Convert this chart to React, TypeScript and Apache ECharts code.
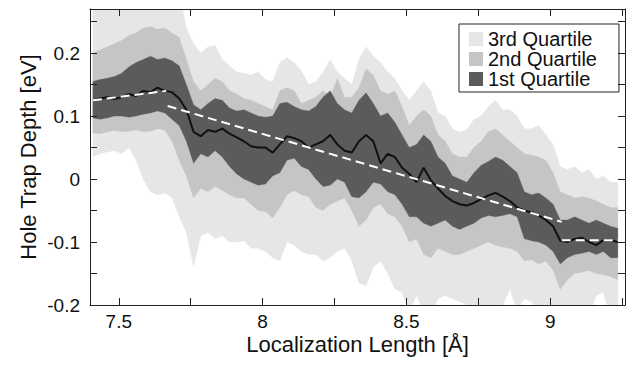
import React, { useEffect, useRef } from "react";
import * as echarts from "echarts";

// x positions (Å) at which the quartile envelopes were read
const xs = [
  7.41, 7.435, 7.46, 7.485, 7.51, 7.535, 7.56, 7.585, 7.61, 7.635,
  7.66, 7.685, 7.71, 7.735, 7.76, 7.785, 7.81, 7.835, 7.86, 7.885,
  7.91, 7.935, 7.96, 7.985, 8.01, 8.035, 8.06, 8.085, 8.11, 8.135,
  8.16, 8.185, 8.21, 8.235, 8.26, 8.285, 8.31, 8.335, 8.36, 8.385,
  8.41, 8.435, 8.46, 8.485, 8.51, 8.535, 8.56, 8.585, 8.61, 8.635,
  8.66, 8.685, 8.71, 8.735, 8.76, 8.785, 8.81, 8.835, 8.86, 8.885,
  8.91, 8.935, 8.96, 8.985, 9.01, 9.035, 9.06, 9.085, 9.11, 9.135,
  9.16, 9.185, 9.21, 9.235,
];

const upper3 = [
  0.3, 0.3, 0.3, 0.3, 0.3, 0.3, 0.3, 0.3, 0.3, 0.3,
  0.3, 0.3, 0.3, 0.24, 0.215, 0.2, 0.21, 0.212, 0.19, 0.18,
  0.17, 0.168, 0.165, 0.17, 0.158, 0.155, 0.185, 0.193, 0.185, 0.172,
  0.15, 0.155, 0.17, 0.19, 0.17, 0.16, 0.15, 0.19, 0.21, 0.195,
  0.185, 0.17, 0.16, 0.14, 0.125, 0.14, 0.155, 0.14, 0.105, 0.1,
  0.08, 0.075, 0.078, 0.095, 0.1, 0.115, 0.125, 0.11, 0.11, 0.1,
  0.08, 0.08, 0.085, 0.07, 0.055, 0.02, 0.015, 0.02, 0.01, 0.015,
  0.0, 0.005, -0.005, -0.005,
];

const upper2 = [
  0.2, 0.205, 0.21, 0.215, 0.22, 0.228, 0.232, 0.24, 0.242, 0.238,
  0.24, 0.232, 0.225, 0.19, 0.155, 0.14, 0.15, 0.16, 0.155, 0.14,
  0.135, 0.128, 0.125, 0.12, 0.115, 0.11, 0.14, 0.145, 0.14, 0.12,
  0.125, 0.13, 0.14, 0.13, 0.16, 0.13, 0.13, 0.145, 0.175, 0.165,
  0.14, 0.135, 0.14, 0.115, 0.085, 0.1, 0.11, 0.1, 0.07, 0.06,
  0.04, 0.035, 0.035, 0.05, 0.06, 0.075, 0.08, 0.07, 0.06, 0.05,
  0.04, 0.038, 0.035, 0.03, 0.01, -0.02, -0.025, -0.03, -0.028, -0.03,
  -0.035, -0.04, -0.045, -0.045,
];

const upper1 = [
  0.155, 0.158, 0.16, 0.163, 0.168, 0.178, 0.185, 0.19, 0.195, 0.19,
  0.192, 0.188, 0.18, 0.15, 0.118, 0.11, 0.12, 0.128, 0.125, 0.113,
  0.108, 0.11, 0.105, 0.1, 0.098, 0.1, 0.12, 0.122, 0.115, 0.11,
  0.108, 0.115, 0.13, 0.14, 0.12, 0.11, 0.105, 0.125, 0.137, 0.12,
  0.1, 0.105, 0.09, 0.07, 0.05, 0.055, 0.07, 0.06, 0.035, 0.025,
  0.005, 0.0, -0.005, 0.01, 0.022, 0.028, 0.035, 0.03, 0.02, 0.01,
  -0.02, -0.025, -0.022, -0.03, -0.04, -0.065, -0.065, -0.06, -0.065, -0.07,
  -0.065, -0.07, -0.075, -0.078,
];

const lower1 = [
  0.097, 0.095, 0.097, 0.1, 0.1, 0.098, 0.1, 0.103, 0.105, 0.108,
  0.105, 0.095, 0.085, 0.06, 0.025, 0.04, 0.035, 0.045, 0.035, 0.02,
  0.008, 0.0, -0.005, -0.01, -0.008, 0.005, 0.01, 0.03, 0.033, 0.02,
  0.015, 0.0, -0.012, -0.01, 0.0, -0.005, -0.028, -0.03, -0.02, -0.005,
  -0.008, -0.02, -0.025, -0.04, -0.06, -0.06, -0.07, -0.075, -0.07, -0.065,
  -0.075, -0.08, -0.075, -0.07, -0.062, -0.058, -0.06, -0.058, -0.055, -0.06,
  -0.095, -0.098, -0.1, -0.105, -0.115, -0.135, -0.125, -0.12, -0.118, -0.115,
  -0.12, -0.115, -0.125, -0.125,
];

const lower2 = [
  0.073, 0.072, 0.075, 0.077, 0.075, 0.076, 0.078, 0.075, 0.076, 0.08,
  0.078, 0.06, 0.03, 0.005, -0.03, -0.015, -0.02, -0.012, -0.018, -0.025,
  -0.03, -0.03, -0.04, -0.05, -0.052, -0.062, -0.045, -0.025, -0.018, -0.025,
  -0.028, -0.045, -0.05, -0.04, -0.035, -0.03, -0.05, -0.075, -0.065, -0.045,
  -0.04, -0.055, -0.06, -0.075, -0.1, -0.095, -0.12, -0.125, -0.11, -0.115,
  -0.12, -0.12, -0.115, -0.11, -0.105, -0.1, -0.105, -0.108, -0.11, -0.115,
  -0.13, -0.128, -0.135, -0.13, -0.145, -0.175, -0.16, -0.15, -0.148, -0.145,
  -0.15, -0.152, -0.155, -0.16,
];

const lower3 = [
  0.035, 0.04, 0.043, 0.045, 0.04, 0.05, 0.03, 0.0, -0.02, -0.025,
  -0.022, -0.03, -0.06, -0.085, -0.14, -0.09, -0.085, -0.095, -0.09, -0.1,
  -0.1, -0.098, -0.11, -0.11, -0.115, -0.125, -0.13, -0.1, -0.105, -0.115,
  -0.12, -0.12, -0.13, -0.125, -0.115, -0.11, -0.13, -0.165, -0.17, -0.14,
  -0.13, -0.15, -0.175, -0.18, -0.21, -0.185, -0.21, -0.22, -0.19, -0.185,
  -0.19, -0.195, -0.2, -0.205, -0.2, -0.205, -0.21, -0.2, -0.175, -0.21,
  -0.19, -0.195, -0.21, -0.22, -0.23, -0.24, -0.23, -0.22, -0.22, -0.22,
  -0.185, -0.18, -0.22, -0.22,
];

const median = [
  0.125, 0.128, 0.13, 0.127, 0.13, 0.135, 0.132, 0.14, 0.138, 0.145,
  0.14, 0.138, 0.128, 0.11, 0.075, 0.068, 0.078, 0.075, 0.08, 0.072,
  0.066, 0.06, 0.052, 0.05, 0.05, 0.042, 0.055, 0.068, 0.065, 0.06,
  0.05, 0.055, 0.06, 0.07, 0.055, 0.045, 0.042, 0.06, 0.07, 0.06,
  0.025, 0.04, 0.035, 0.018, 0.008, -0.005, 0.018, -0.002, -0.015, -0.027,
  -0.035, -0.04, -0.042, -0.038, -0.032, -0.026, -0.022, -0.028, -0.035, -0.045,
  -0.05, -0.053, -0.058, -0.065, -0.075, -0.098, -0.1, -0.095, -0.093, -0.1,
  -0.105, -0.097, -0.097, -0.1,
];

// white dashed piecewise linear trend
const trendX = [7.41, 7.665, 7.67, 9.04, 9.04, 9.245];
const trendY = [0.125, 0.14, 0.116, -0.068, -0.097, -0.097];

const xTicks = [7.5, 7.75, 8, 8.25, 8.5, 8.75, 9, 9.25];
const xLabels = [7.5, 8, 8.5, 9];
const yTicks = [-0.2, -0.15, -0.1, -0.05, 0, 0.05, 0.1, 0.15, 0.2, 0.25];
const yLabels = [-0.2, -0.1, 0, 0.1, 0.2];

const legendNames = ["3rd Quartile", "2nd Quartile", "1st Quartile"];
const LIGHT = "#e5e6e7";
const MID = "#c4c5c7";
const DARK = "#5a5b5d";

export default function App() {
  const ref = useRef<HTMLDivElement>(null);
  useEffect(() => {
    if (!ref.current) return;
    const chart = echarts.init(ref.current, undefined, { renderer: "svg" });
    const pair = (ys: number[]) => xs.map((x, i) => [x, ys[i]]);

    const bandSeries = (name: string, upper: number[], lower: number[], color: string, z: number) => ({
      name,
      type: "custom",
      coordinateSystem: "cartesian2d",
      xAxisIndex: 0,
      yAxisIndex: 0,
      data: [[xs[0], upper[0]]],
      silent: true,
      clip: true,
      z,
      itemStyle: { color },
      renderItem: (params: any, api: any) => {
        const top = xs.map((x, i) => api.coord([x, upper[i]]));
        const bottom = xs.map((x, i) => api.coord([x, lower[i]])).reverse();
        const cs = params.coordSys;
        return {
          type: "group",
          clipPath: { type: "rect", shape: { x: cs.x, y: cs.y, width: cs.width, height: cs.height } },
          children: [
            {
              type: "polygon",
              shape: { points: top.concat(bottom) },
              style: { fill: color, stroke: color, lineWidth: 0.3 },
            },
          ],
        };
      },
    });

    const trendSeg = (a: number, b: number) => ({
      type: "line",
      data: [
        [trendX[a], trendY[a]],
        [trendX[b], trendY[b]],
      ],
      symbol: "none",
      silent: true,
      lineStyle: { color: "#ffffff", width: 2, type: [9, 5] },
      z: 6,
    });
    const axisCommon = {
      type: "value",
      z: 10,
      axisLine: { show: true, onZero: false, lineStyle: { color: "#222", width: 1 } },
      splitLine: { show: false },
    };
    chart.setOption({
      animation: false,
      textStyle: { fontFamily: "'Liberation Sans', Arial, Helvetica, sans-serif" },
      grid: { left: 90, right: 8, top: 9, bottom: 60, outerBoundsMode: "none" },
      legend: {
        left: 459,
        top: 24,
        orient: "vertical",
        icon: "rect",
        itemWidth: 14,
        itemHeight: 14,
        itemGap: 0,
        itemTextGap: 8,
        selectedMode: false,
        padding: [5, 22, 3, 10],
        borderColor: "#222",
        borderWidth: 1,
        backgroundColor: "#ffffff",
        textStyle: { fontSize: 20, color: "#111" },
        data: [
          { name: legendNames[0], itemStyle: { color: LIGHT } },
          { name: legendNames[1], itemStyle: { color: MID } },
          { name: legendNames[2], itemStyle: { color: DARK } },
        ],
      },
      xAxis: [
        {
          ...axisCommon,
          position: "bottom",
          min: 7.4,
          max: 9.26,
          axisTick: { show: true, inside: true, length: 7, customValues: xTicks, lineStyle: { color: "#222" } },
          axisLabel: { show: true, customValues: xLabels, fontSize: 19, color: "#111", margin: 7 },
          name: "Localization Length [Å]",
          nameLocation: "middle",
          nameGap: 28,
          nameMoveOverlap: false,
          nameTextStyle: { fontSize: 22, color: "#111" },
        },
        {
          ...axisCommon,
          position: "top",
          min: 7.4,
          max: 9.26,
          axisTick: { show: true, inside: true, length: 7, customValues: xTicks, lineStyle: { color: "#222" } },
          axisLabel: { show: false },
        },
      ],
      yAxis: [
        {
          ...axisCommon,
          position: "left",
          min: -0.2,
          max: 0.27,
          axisTick: { show: true, inside: true, length: 7, customValues: yTicks, lineStyle: { color: "#222" } },
          axisLabel: { show: true, customValues: yLabels, fontSize: 19, color: "#111", margin: 10 },
          name: "Hole Trap Depth [eV]",
          nameLocation: "middle",
          nameGap: 51,
          nameMoveOverlap: false,
          nameTextStyle: { fontSize: 22, color: "#111" },
        },
        {
          ...axisCommon,
          position: "right",
          min: -0.2,
          max: 0.27,
          axisTick: { show: true, inside: true, length: 7, customValues: yTicks, lineStyle: { color: "#222" } },
          axisLabel: { show: false },
        },
      ],
      series: [
        bandSeries(legendNames[0], upper3, lower3, LIGHT, 1),
        bandSeries(legendNames[1], upper2, lower2, MID, 2),
        bandSeries(legendNames[2], upper1, lower1, DARK, 3),
        {
          name: "median",
          type: "line",
          data: pair(median),
          symbol: "none",
          silent: true,
          lineStyle: { color: "#111", width: 2 },
          z: 5,
        },
        trendSeg(0, 1),
        trendSeg(2, 3),
        trendSeg(4, 5),
      ],
    });
    return () => chart.dispose();
  }, []);
  return (
    <div
      ref={ref}
      style={{ position: "fixed", left: 0, top: 0, width: 633, height: 365, background: "#fff" }}
    />
  );
}
